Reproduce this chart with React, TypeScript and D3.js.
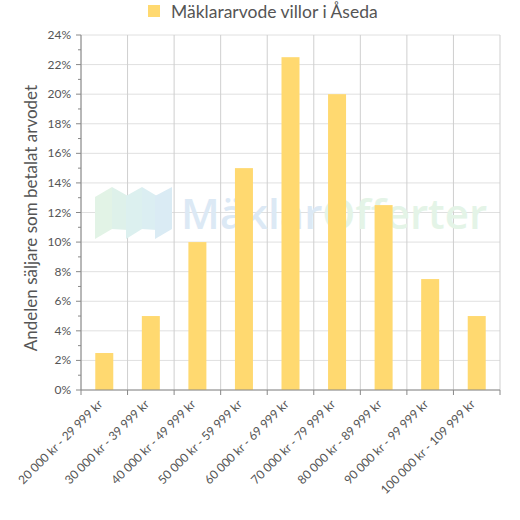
import React from "react";
import * as d3 from "d3";

const categories = [
  "20 000 kr - 29 999 kr",
  "30 000 kr - 39 999 kr",
  "40 000 kr - 49 999 kr",
  "50 000 kr - 59 999 kr",
  "60 000 kr - 69 999 kr",
  "70 000 kr - 79 999 kr",
  "80 000 kr - 89 999 kr",
  "90 000 kr - 99 999 kr",
  "100 000 kr - 109 999 kr",
];
const values = [2.5, 5, 10, 15, 22.5, 20, 12.5, 7.5, 5];
const yTicks = [0, 2, 4, 6, 8, 10, 12, 14, 16, 18, 20, 22, 24];
const yMinor = d3.range(1, 24, 2);
const seriesName = "Mäklararvode villor i Åseda";
const yTitle = "Andelen säljare som betalat arvodet";

const W = 520, H = 520;
const left = 81, right = 500, top = 35, bottom = 390;
const font = "Lato, 'Open Sans', sans-serif";
const barColor = "#FFD970";

export default function App() {
  const x = d3.scaleBand().domain(categories).range([left, right]).paddingInner(0).paddingOuter(0);
  const y = d3.scaleLinear().domain([0, 24]).range([bottom, top]);
  const bw = 18;
  const bounds = categories.map((c) => x(c)!).concat([right]);
  return (
    <svg width={W} height={H} style={{ position: "absolute", left: 0, top: 0 }} fontFamily={font}>
      {/* gridlines */}
      {yTicks.map((t) => (
        <line key={"g" + t} x1={left} x2={right} y1={y(t)} y2={y(t)} stroke="#e0e0e0" />
      ))}
      {bounds.map((b, i) => (
        <line key={"v" + i} x1={b} x2={b} y1={top} y2={bottom} stroke="#cfcfcf" />
      ))}
      {/* watermark */}
      <g>
        <polygon points="95,197 112,187 112,229 95,239" fill="#e2f3e6" />
        <polygon points="112,187 128,196 128,230 112,229" fill="#def1ea" />
        <polygon points="126,196 142,187 142,229 126,239" fill="#dcf0ef" />
        <polygon points="142,187 157,196 157,230 142,229" fill="#dbeef2" />
        <polygon points="155,196 172,187 172,229 155,239" fill="#daebf4" />
        <text x={181} y={229} fontSize={42} fontFamily="'Open Sans', sans-serif" fontWeight={600}>
          <tspan fill="#dce9f5">Mäklar</tspan>
          <tspan fill="#e4f4e7">Offerter</tspan>
        </text>
      </g>
      {/* bars */}
      {values.map((v, i) => {
        const cx = x(categories[i])! + x.bandwidth() / 2;
        return (
          <rect key={"b" + i} x={cx - bw / 2} y={y(v)} width={bw} height={bottom - y(v)} fill={barColor} />
        );
      })}
      {/* y axis */}
      <line x1={left} x2={left} y1={top} y2={bottom} stroke="#888" />
      {yTicks.map((t) => (
        <g key={"yt" + t}>
          <line x1={left - 5} x2={left} y1={y(t)} y2={y(t)} stroke="#888" />
          <text x={left - 10} y={y(t) + 4} textAnchor="end" fontSize={12} fill="#555">
            {t}%
          </text>
        </g>
      ))}
      {yMinor.map((t) => (
        <line key={"ym" + t} x1={left - 3} x2={left} y1={y(t)} y2={y(t)} stroke="#888" />
      ))}
      {/* x axis */}
      <line x1={left} x2={right} y1={bottom} y2={bottom} stroke="#888" />
      {bounds.map((b, i) => (
        <line key={"xt" + i} x1={b} x2={b} y1={bottom} y2={bottom + 5} stroke="#888" />
      ))}
      {categories.map((c) => {
        const cx = x(c)! + x.bandwidth() / 2;
        return (
          <text
            key={"xl" + c}
            transform={`translate(${cx - 1},${bottom + 15}) rotate(-45)`}
            textAnchor="end"
            fontSize={12}
            fill="#555"
          >
            {c}
          </text>
        );
      })}
      {/* y title */}
      <text
        transform={`translate(37,218) rotate(-90)`}
        textAnchor="middle"
        fontSize={17}
        fill="#555"
      >
        {yTitle}
      </text>
      {/* legend */}
      <rect x={148} y={5} width={12} height={12} fill={barColor} />
      <text x={171} y={18} fontSize={17.5} fill="#555">
        {seriesName}
      </text>
    </svg>
  );
}
